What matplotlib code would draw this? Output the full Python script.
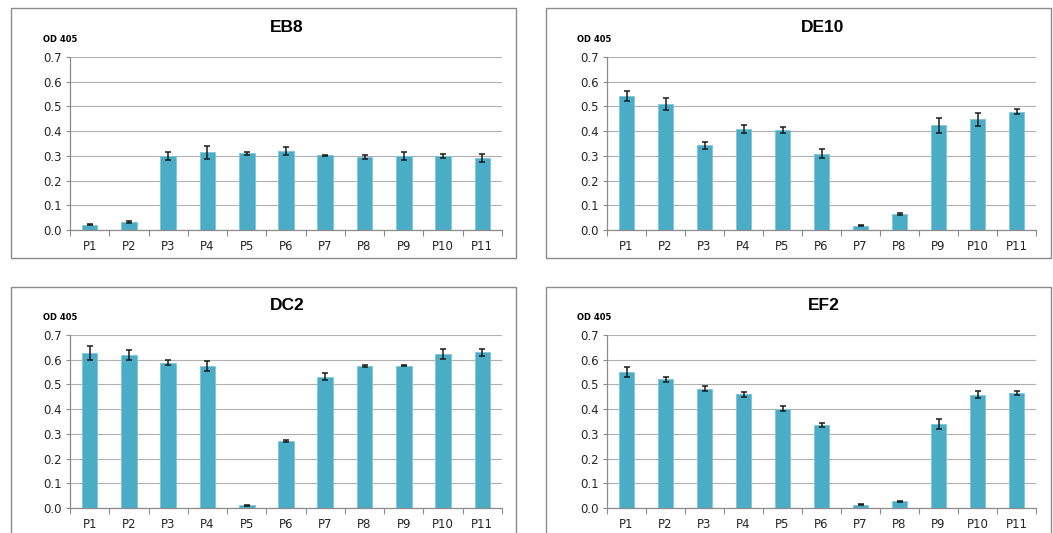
import matplotlib
matplotlib.use("Agg")
import matplotlib.pyplot as plt
from matplotlib.patches import Rectangle
import numpy as np

categories = ["P1", "P2", "P3", "P4", "P5", "P6", "P7", "P8", "P9", "P10", "P11"]
yticks = [0.0, 0.1, 0.2, 0.3, 0.4, 0.5, 0.6, 0.7]

eb8_values = [0.021, 0.032, 0.300, 0.314, 0.311, 0.319, 0.302, 0.297, 0.300, 0.300, 0.293]
eb8_errors = [0.002, 0.003, 0.015, 0.026, 0.006, 0.017, 0.002, 0.008, 0.015, 0.008, 0.016]

de10_values = [0.542, 0.510, 0.342, 0.409, 0.405, 0.308, 0.0175, 0.065, 0.423, 0.448, 0.479]
de10_errors = [0.022, 0.023, 0.014, 0.015, 0.013, 0.018, 0.002, 0.004, 0.032, 0.027, 0.009]

dc2_values = [0.627, 0.619, 0.588, 0.575, 0.011, 0.270, 0.531, 0.575, 0.575, 0.623, 0.631]
dc2_errors = [0.028, 0.021, 0.011, 0.020, 0.002, 0.004, 0.015, 0.005, 0.002, 0.019, 0.014]

ef2_values = [0.551, 0.521, 0.483, 0.460, 0.402, 0.334, 0.013, 0.028, 0.341, 0.459, 0.464]
ef2_errors = [0.020, 0.011, 0.011, 0.009, 0.009, 0.008, 0.002, 0.002, 0.021, 0.015, 0.008]

titles = ["EB8", "DE10", "DC2", "EF2"]

W, H = 1053, 533
fig = plt.figure(figsize=(W / 100, H / 100), dpi=100)
fig.patch.set_facecolor("white")

def fx(px):
    return px / W

def fy(py):
    return 1 - py / H

panels = [
    dict(vals=eb8_values, errs=eb8_errors, title=titles[0],
         ax=(70, 502, 57, 230), box=(11, 516, 8, 258), tpos=(287, 27), od=(43, 39)),
    dict(vals=de10_values, errs=de10_errors, title=titles[1],
         ax=(607, 1036, 57, 230), box=(546, 1051, 8, 258), tpos=(823, 27), od=(577, 39)),
    dict(vals=dc2_values, errs=dc2_errors, title=titles[2],
         ax=(70, 502, 335, 508), box=(11, 516, 287, 545), tpos=(287, 305), od=(43, 317)),
    dict(vals=ef2_values, errs=ef2_errors, title=titles[3],
         ax=(607, 1036, 335, 508), box=(546, 1051, 287, 545), tpos=(824, 305), od=(577, 318)),
]

bar_color = "#4BACC6"
grid_color = "#b0b0b0"
axis_color = "#8c8c8c"
text_color = "#262626"

for p in panels:
    x0, x1, y0, y1 = p["box"]
    fig.patches.append(Rectangle((fx(x0), fy(y1)), fx(x1) - fx(x0), fy(y0) - fy(y1),
                                 transform=fig.transFigure, fill=False,
                                 edgecolor="#8a8a8a", linewidth=1.0, zorder=0))
    ax0, ax1, ay0, ay1 = p["ax"]
    ax = fig.add_axes([fx(ax0), fy(ay1), fx(ax1) - fx(ax0), fy(ay0) - fy(ay1)])
    x = np.arange(len(categories))
    ax.bar(x, p["vals"], width=0.4, color=bar_color, edgecolor="#7fc6d9",
           linewidth=0.6, zorder=2)
    ax.errorbar(x, p["vals"], yerr=p["errs"], fmt="none", ecolor="#1a1a1a",
                elinewidth=1.1, capsize=2.4, capthick=1.1, zorder=3)
    ax.set_xlim(-0.5, len(categories) - 0.5)
    ax.set_ylim(0, 0.7)
    ax.set_yticks(yticks)
    ax.set_yticklabels([f"{v:.1f}" for v in yticks])
    ax.set_xticks(x)
    ax.set_xticklabels(categories)
    ax.set_xticks(np.arange(-0.5, len(categories)), minor=True)
    ax.tick_params(axis="x", which="major", length=0, pad=7, labelsize=8.5,
                   labelcolor=text_color)
    ax.tick_params(axis="x", which="minor", length=4, color=axis_color, width=0.8)
    ax.tick_params(axis="y", length=3, color=axis_color, width=0.8, pad=3,
                   labelsize=8.5, labelcolor=text_color)
    for lab in ax.get_xticklabels() + ax.get_yticklabels():
        lab.set_family("DejaVu Sans")
    ax.yaxis.grid(True, color=grid_color, linewidth=0.8, zorder=0)
    ax.set_axisbelow(True)
    for s in ["top", "right"]:
        ax.spines[s].set_visible(False)
    for s in ["left", "bottom"]:
        ax.spines[s].set_color(axis_color)
        ax.spines[s].set_linewidth(0.9)
    tx, ty = p["tpos"]
    fig.text(fx(tx), fy(ty), p["title"], ha="center", va="center",
             fontsize=12.5, fontweight="bold", family="Liberation Sans", color="black")
    ox, oy = p["od"]
    fig.text(fx(ox), fy(oy), "OD 405", ha="left", va="center",
             fontsize=6, fontweight="bold", family="DejaVu Sans", color="black")

fig.savefig("out.png", dpi=100, facecolor="white")
